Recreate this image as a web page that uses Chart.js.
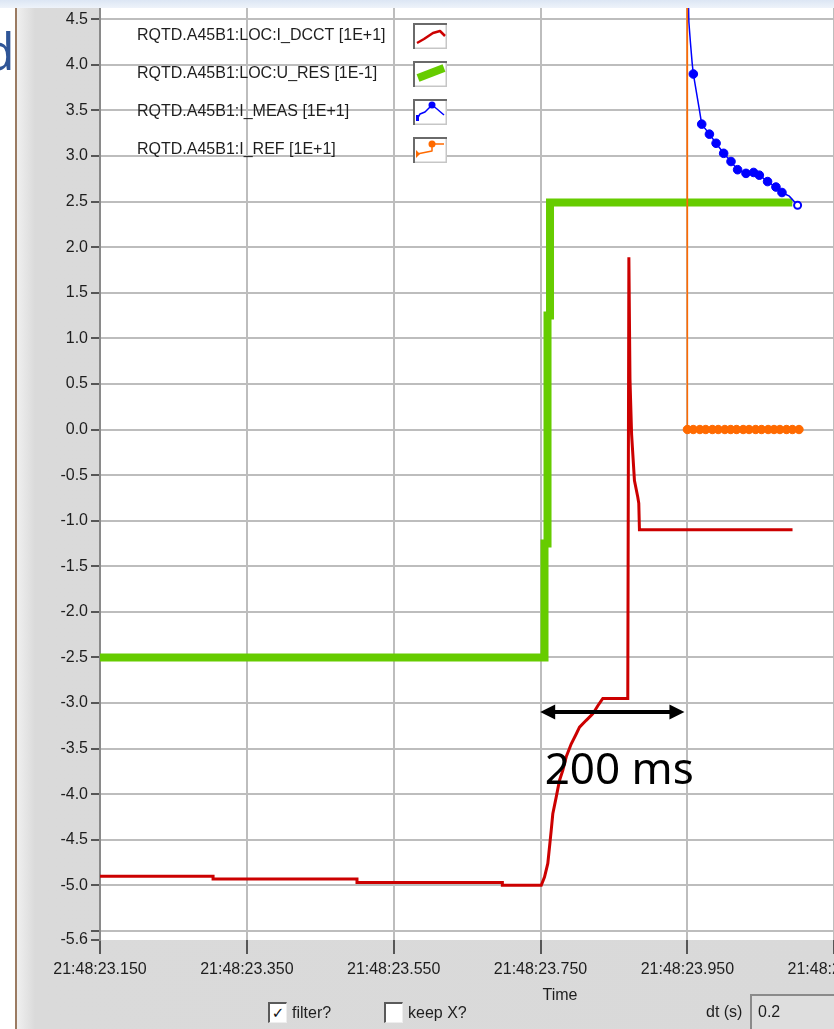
<!DOCTYPE html>
<html>
<head>
<meta charset="utf-8">
<script src="https://cdn.jsdelivr.net/npm/chart.js"></script>
<style>
  html, body { margin: 0; padding: 0; }
  body { width: 834px; height: 1029px; overflow: hidden; position: relative; background: #fff;
         font-family: "Liberation Sans", Arial, sans-serif; }
  #topband { position: absolute; left: 0; top: 0; width: 834px; height: 8px; background: linear-gradient(#dce6f4, #eef3fa); }
  #slideText { position: absolute; left: -17px; top: 24px; font: 52px "Open Sans", sans-serif; color: #2f5597; line-height: 1; }
  #panel { position: absolute; left: 15px; top: 8px; width: 819px; height: 1021px; border-left: 2px solid #9b7b62;
           background: linear-gradient(to right, #f0f0f0 0px, #dadada 18px, #d9d9d9 100%); }
  #chartBox { position: absolute; left: 20px; top: 8px; }
  #chartBox canvas { display: block; }
  .cb { position: absolute; width: 16px; height: 18px; background: #fff; border-top: 2px solid #5a5a5a; border-left: 2px solid #5a5a5a;
        border-right: 1px solid #eee; border-bottom: 1px solid #eee; font: 15px "DejaVu Sans", sans-serif; line-height: 18px; text-align: center; color: #111; }
  .lbl { position: absolute; font-size: 16px; color: #1e1e1e; line-height: 18px; white-space: nowrap; }
  #dtbox { position: absolute; left: 750px; top: 994px; width: 90px; height: 40px; background: #dedede;
           border-top: 2px solid #8a8a8a; border-left: 2px solid #8a8a8a; box-sizing: border-box;
           font-size: 16px; color: #1e1e1e; padding: 7px 0 0 6px; }
</style>
</head>
<body>
<div id="topband"></div>
<div id="slideText">d</div>
<div id="panel"></div>
<div id="chartBox"><canvas id="traceChart" width="1010" height="1002"></canvas></div>

<div class="cb" style="left:268px; top:1002px;">&#10003;</div>
<div class="lbl" style="left:292px; top:1004px;">filter?</div>
<div class="cb" style="left:384px; top:1002px;"></div>
<div class="lbl" style="left:408px; top:1004px;">keep X?</div>
<div class="lbl" style="left:706px; top:1003px;">dt (s)</div>
<div id="dtbox">0.2</div>

<script>
// series names (legend order)
const seriesNames = [
    'RQTD.A45B1:LOC:I_DCCT [1E+1]',
    'RQTD.A45B1:LOC:U_RES [1E-1]',
    'RQTD.A45B1:I_MEAS [1E+1]',
    'RQTD.A45B1:I_REF [1E+1]'
];

// time in seconds after 21:48:00
const dcctTime = [23.150, 23.304, 23.304, 23.500, 23.500, 23.698, 23.698, 23.751, 23.7554, 23.7599, 23.7622, 23.7645,
    23.7667, 23.7714, 23.7758, 23.7803, 23.7850, 23.7917, 23.7986, 23.8031, 23.8122, 23.8211, 23.8280, 23.8348,
    23.8688, 23.8703, 23.8718, 23.8740, 23.8779, 23.8824, 23.8838, 23.8847, 24.0932];
const dcctValue = [-4.90, -4.90, -4.93, -4.93, -4.97, -4.97, -5.00, -5.00, -4.91, -4.76, -4.58, -4.40,
    -4.215, -4.03, -3.85, -3.74, -3.59, -3.45, -3.34, -3.265, -3.19, -3.12, -3.03, -2.95,
    -2.95, 1.89, 0.55, -0.05, -0.56, -0.74, -0.81, -1.10, -1.10];

const uresTime = [23.150, 23.7554, 23.7554, 23.7595, 23.7595, 23.7629, 23.7629, 24.0929];
const uresValue = [-2.50, -2.50, -1.25, -1.25, 1.25, 1.25, 2.49, 2.49];

const measTime = [23.9500, 23.9520, 23.9542, 23.9565, 23.9581, 23.9663, 23.9695, 23.9800, 23.9891, 23.9994,
    24.0094, 24.0184, 24.0298, 24.0402, 24.0480, 24.0592, 24.0706, 24.0788, 24.0888, 24.1001];
const measValue = [5.20, 4.47, 4.24, 4.02, 3.90, 3.51, 3.35, 3.24, 3.14, 3.03,
    2.94, 2.85, 2.81, 2.82, 2.79, 2.72, 2.66, 2.60, 2.56, 2.46];

const refTime = [23.9495, 23.950, 23.958, 23.967, 23.975, 23.984, 23.992, 24.001, 24.009, 24.017, 24.026,
    24.034, 24.043, 24.051, 24.060, 24.068, 24.076, 24.085, 24.093, 24.102];
const refValue = [6.00, 0, 0, 0, 0, 0, 0, 0, 0, 0, 0,
    0, 0, 0, 0, 0, 0, 0, 0, 0];

// axes
const xTickValues = [23.150, 23.350, 23.550, 23.750, 23.950, 24.150, 24.350];
const xTickLabels = ['21:48:23.150', '21:48:23.350', '21:48:23.550', '21:48:23.750', '21:48:23.950', '21:48:24.150', '21:48:24.350'];
const yTickValues = [4.5, 4.0, 3.5, 3.0, 2.5, 2.0, 1.5, 1.0, 0.5, 0.0, -0.5, -1.0, -1.5, -2.0, -2.5, -3.0, -3.5, -4.0, -4.5, -5.0, -5.5, -5.6];
const yTickLabels = ['4.5', '4.0', '3.5', '3.0', '2.5', '2.0', '1.5', '1.0', '0.5', '0.0', '-0.5', '-1.0', '-1.5', '-2.0', '-2.5', '-3.0', '-3.5', '-4.0', '-4.5', '-5.0', '', '-5.6'];

// the 200 ms marker
const spanStart = 23.7495, spanEnd = 23.946, spanLevel = -3.10;
const spanText = '200 ms';

const FONT = '"Liberation Sans", Arial, sans-serif';
const toPoints = (t, v) => t.map((x, i) => ({ x: x, y: v[i] }));

const measUnmarked = [0, 1, 2, 3, 5, 18];

const plotBackground = {
    id: 'plotBackground',
    beforeDraw(chart) {
        const a = chart.chartArea, ctx = chart.ctx;
        ctx.save();
        ctx.fillStyle = '#ffffff';
        ctx.fillRect(a.left, a.top, a.right - a.left, a.bottom - a.top);
        ctx.restore();
    }
};

function drawIcon(ctx, i, bx, by) {
    ctx.save();
    ctx.lineJoin = 'round';
    if (i === 0) {
        ctx.strokeStyle = '#cc0000'; ctx.lineWidth = 2.5;
        ctx.beginPath(); ctx.moveTo(bx + 4, by + 20); ctx.lineTo(bx + 11, by + 16); ctx.lineTo(bx + 20, by + 10);
        ctx.lineTo(bx + 27, by + 8); ctx.lineTo(bx + 32, by + 13); ctx.stroke();
    } else if (i === 1) {
        ctx.strokeStyle = '#66cc00'; ctx.lineWidth = 8; ctx.lineCap = 'butt';
        ctx.beginPath(); ctx.moveTo(bx + 5, by + 17); ctx.lineTo(bx + 31, by + 7); ctx.stroke();
    } else if (i === 2) {
        ctx.strokeStyle = '#0000ff'; ctx.fillStyle = '#0000ff'; ctx.lineWidth = 1.5;
        ctx.beginPath(); ctx.moveTo(bx + 4, by + 20); ctx.lineTo(bx + 7, by + 15); ctx.lineTo(bx + 12, by + 13);
        ctx.lineTo(bx + 19, by + 6); ctx.lineTo(bx + 24, by + 10); ctx.lineTo(bx + 31, by + 16); ctx.stroke();
        ctx.fillRect(bx + 3, by + 16, 3, 6);
        ctx.beginPath(); ctx.arc(bx + 19, by + 6, 3.5, 0, Math.PI * 2); ctx.fill();
    } else {
        ctx.strokeStyle = '#ff6a00'; ctx.fillStyle = '#ff6a00'; ctx.lineWidth = 1.5;
        ctx.beginPath(); ctx.moveTo(bx + 4, by + 17); ctx.lineTo(bx + 19, by + 14); ctx.lineTo(bx + 19, by + 7);
        ctx.lineTo(bx + 31, by + 7); ctx.stroke();
        ctx.beginPath(); ctx.moveTo(bx + 3, by + 13); ctx.lineTo(bx + 7, by + 17); ctx.lineTo(bx + 3, by + 21); ctx.fill();
        ctx.beginPath(); ctx.arc(bx + 19, by + 7, 3.5, 0, Math.PI * 2); ctx.fill();
    }
    ctx.restore();
}

const plotLegend = {
    id: 'plotLegend',
    afterDatasetsDraw(chart) {
        const ctx = chart.ctx, a = chart.chartArea;
        ctx.save();
        chart.data.datasets.forEach((ds, i) => {
            const cy = a.top + 28 + i * 38;
            ctx.font = '16px ' + FONT;
            ctx.textBaseline = 'middle';
            ctx.fillStyle = '#1e1e1e';
            ctx.fillText(ds.label, a.left + 37, cy);
            const bx = a.left + 313, by = cy - 13, bw = 34, bh = 26;
            ctx.fillStyle = '#ffffff';
            ctx.fillRect(bx, by, bw, bh);
            ctx.strokeStyle = '#c6c6c6'; ctx.lineWidth = 1.5;
            ctx.strokeRect(bx + 0.75, by + 0.75, bw - 1.5, bh - 1.5);
            ctx.strokeStyle = '#6a6a6a'; ctx.lineWidth = 2;
            ctx.beginPath(); ctx.moveTo(bx + 1, by + bh); ctx.lineTo(bx + 1, by + 1); ctx.lineTo(bx + bw, by + 1); ctx.stroke();
            drawIcon(ctx, i, bx, by);
        });
        ctx.restore();
    }
};

const spanMarker = {
    id: 'spanMarker',
    afterDatasetsDraw(chart) {
        const xs = chart.scales.x, ys = chart.scales.y, ctx = chart.ctx;
        const x1 = xs.getPixelForValue(spanStart), x2 = xs.getPixelForValue(spanEnd), yy = ys.getPixelForValue(spanLevel);
        ctx.save();
        ctx.strokeStyle = '#000'; ctx.fillStyle = '#000'; ctx.lineWidth = 4;
        ctx.beginPath(); ctx.moveTo(x1 + 10, yy); ctx.lineTo(x2 - 10, yy); ctx.stroke();
        ctx.beginPath(); ctx.moveTo(x1, yy); ctx.lineTo(x1 + 15, yy - 7.5); ctx.lineTo(x1 + 15, yy + 7.5); ctx.closePath(); ctx.fill();
        ctx.beginPath(); ctx.moveTo(x2, yy); ctx.lineTo(x2 - 15, yy - 7.5); ctx.lineTo(x2 - 15, yy + 7.5); ctx.closePath(); ctx.fill();
        ctx.font = '44px "Noto Sans", sans-serif';
        ctx.textBaseline = 'alphabetic';
        ctx.fillText(spanText, xs.getPixelForValue(23.7556), ys.getPixelForValue(-3.89));
        ctx.restore();
    }
};

const measLast = measTime.length - 1;

new Chart(document.getElementById('traceChart').getContext('2d'), {
    type: 'line',
    data: {
        datasets: [
            {
                label: seriesNames[0],
                data: toPoints(dcctTime, dcctValue),
                borderColor: '#cc0000', borderWidth: 3, pointRadius: 0, order: 4
            },
            {
                label: seriesNames[1],
                data: toPoints(uresTime, uresValue),
                borderColor: '#66cc00', borderWidth: 8, pointRadius: 0, order: 3,
                borderJoinStyle: 'miter'
            },
            {
                label: seriesNames[2],
                data: toPoints(measTime, measValue),
                borderColor: '#0000ff', borderWidth: 1.5, order: 2,
                pointRadius: ctx => measUnmarked.includes(ctx.dataIndex) ? 0 : (ctx.dataIndex === measLast ? 3.5 : 4.3),
                pointBackgroundColor: ctx => ctx.dataIndex === measLast ? '#ffffff' : '#0000ff',
                pointBorderColor: '#0000ff', pointBorderWidth: ctx => ctx.dataIndex === measLast ? 2 : 1
            },
            {
                label: seriesNames[3],
                data: toPoints(refTime, refValue),
                borderColor: '#ff6a00', borderWidth: 1.5, order: 1,
                pointRadius: ctx => ctx.dataIndex === 0 ? 0 : 4.2,
                pointBackgroundColor: '#ff6a00', pointBorderColor: '#ff6a00', pointBorderWidth: 1
            }
        ]
    },
    options: {
        responsive: false,
        animation: false,
        layout: { autoPadding: false, padding: { left: 0, right: 10, top: 0, bottom: 0 } },
        plugins: { legend: { display: false }, tooltip: { enabled: false } },
        elements: { line: { tension: 0 } },
        scales: {
            x: {
                type: 'linear', min: 23.150, max: 24.403,
                afterBuildTicks: scale => { scale.ticks = xTickValues.map(v => ({ value: v })); },
                afterFit: scale => { scale.height = 70; scale.paddingLeft = 0; scale.paddingRight = 0; },
                ticks: {
                    autoSkip: false, maxRotation: 0, padding: 6, color: '#1e1e1e',
                    font: { family: FONT, size: 16 },
                    callback: (v, i) => xTickLabels[i]
                },
                grid: { color: '#bdbdbd', lineWidth: 2, tickColor: '#2a2a2a', tickLength: 14, tickWidth: 1.5 },
                border: { display: false },
                title: { display: true, text: 'Time', color: '#1e1e1e', font: { family: FONT, size: 16 }, padding: { top: 0, bottom: 5 } }
            },
            y: {
                type: 'linear', min: -5.6, max: 4.624,
                afterBuildTicks: scale => { scale.ticks = yTickValues.map(v => ({ value: v })); },
                afterFit: scale => { scale.width = 80; scale.paddingTop = 0; scale.paddingBottom = 0; },
                ticks: {
                    autoSkip: false, padding: 3, color: '#1e1e1e',
                    font: { family: FONT, size: 16 },
                    callback: (v, i) => yTickLabels[i]
                },
                grid: {
                    color: ctx => (ctx.tick && ctx.tick.value === -5.6) ? 'rgba(0,0,0,0)' : '#bdbdbd',
                    lineWidth: 2, tickColor: '#2a2a2a', tickLength: 9, tickWidth: 1.5
                },
                border: { display: true, color: '#8a8a8a', width: 2 }
            }
        }
    },
    plugins: [plotBackground, plotLegend, spanMarker]
});
</script>
</body>
</html>
